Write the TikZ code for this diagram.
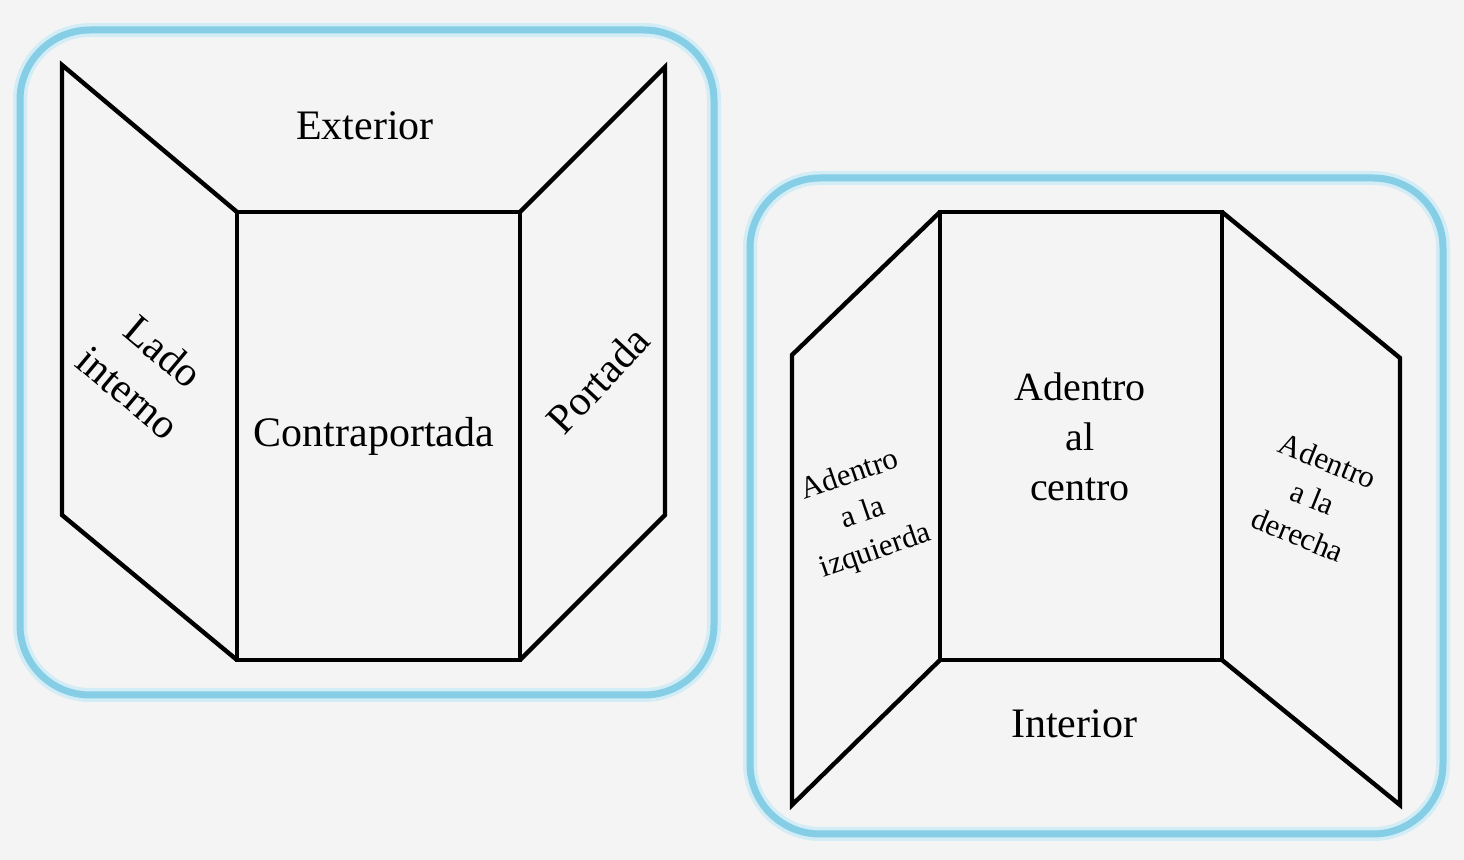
\documentclass[tikz,border=0pt]{standalone}
\usepackage{fontspec}
\setmainfont{Liberation Serif}
\definecolor{bgc}{HTML}{F4F4F4}
\definecolor{frameblue}{HTML}{86CDE6}
\definecolor{glow}{HTML}{D3EDF6}
\begin{document}
\begin{tikzpicture}[x=0.5pt,y=-0.5pt]
\tikzset{
  frame/.style={draw=frameblue,line width=3.5pt,rounded corners=35pt},
  frameglow/.style={draw=glow,line width=7pt,rounded corners=35pt},
  edge/.style={draw=black,line width=2.2pt,line join=miter},
  lbl/.style={font=\fontsize{21}{27}\selectfont,align=center,inner sep=0pt},
  slbl/.style={font=\fontsize{15.5}{20}\selectfont,align=center,inner sep=0pt}
}
\fill[bgc] (0,0) rectangle (1464,860);
\useasboundingbox (0,0) rectangle (1464,860);
% frames
\draw[frameglow] (20,30) rectangle (714,695);
\draw[frame] (20,30) rectangle (714,695);
\draw[frameglow] (750,178) rectangle (1443,834);
\draw[frame] (750,178) rectangle (1443,834);
% left diagram
\coordinate (a1) at (62,65);
\coordinate (a2) at (62,515);
\coordinate (b1) at (237,212);
\coordinate (b2) at (237,660);
\coordinate (c1) at (520,212);
\coordinate (c2) at (520,660);
\coordinate (d1) at (665,67);
\coordinate (d2) at (665,515);
\draw[edge] (b1) -- (a1) -- (a2) -- (b2);
\draw[edge] (b1) rectangle (c2);
\draw[edge] (c1) -- (d1) -- (d2) -- (c2);
\node[lbl] (ext) at (365,126) {Exterior};
\node[lbl] (contra) at (374,436) {Contraportada};
\node[lbl,rotate=-40] (lado) at (146,372) {Lado\\interno};
\node[lbl,rotate=47] (portada) at (598,380) {Portada};
% right diagram
\coordinate (e1) at (792,355);
\coordinate (e2) at (792,805);
\coordinate (f1) at (940,212);
\coordinate (f2) at (940,660);
\coordinate (g1) at (1222,212);
\coordinate (g2) at (1222,660);
\coordinate (h1) at (1400,358);
\coordinate (h2) at (1400,805);
\draw[edge] (f1) -- (e1) -- (e2) -- (f2);
\draw[edge] (f1) rectangle (g2);
\draw[edge] (g1) -- (h1) -- (h2) -- (g2);
\node[lbl,font=\fontsize{20}{25}\selectfont] (centro) at (1080,437) {Adentro\\al\\centro};
\node[lbl] (inter) at (1074,724) {Interior};
\node[slbl,rotate=19] (izq) at (863,514) {Adentro\\a la\\izquierda};
\node[slbl,rotate=-22] (der) at (1313,498) {Adentro\\a la\\derecha};
\end{tikzpicture}
\end{document}
